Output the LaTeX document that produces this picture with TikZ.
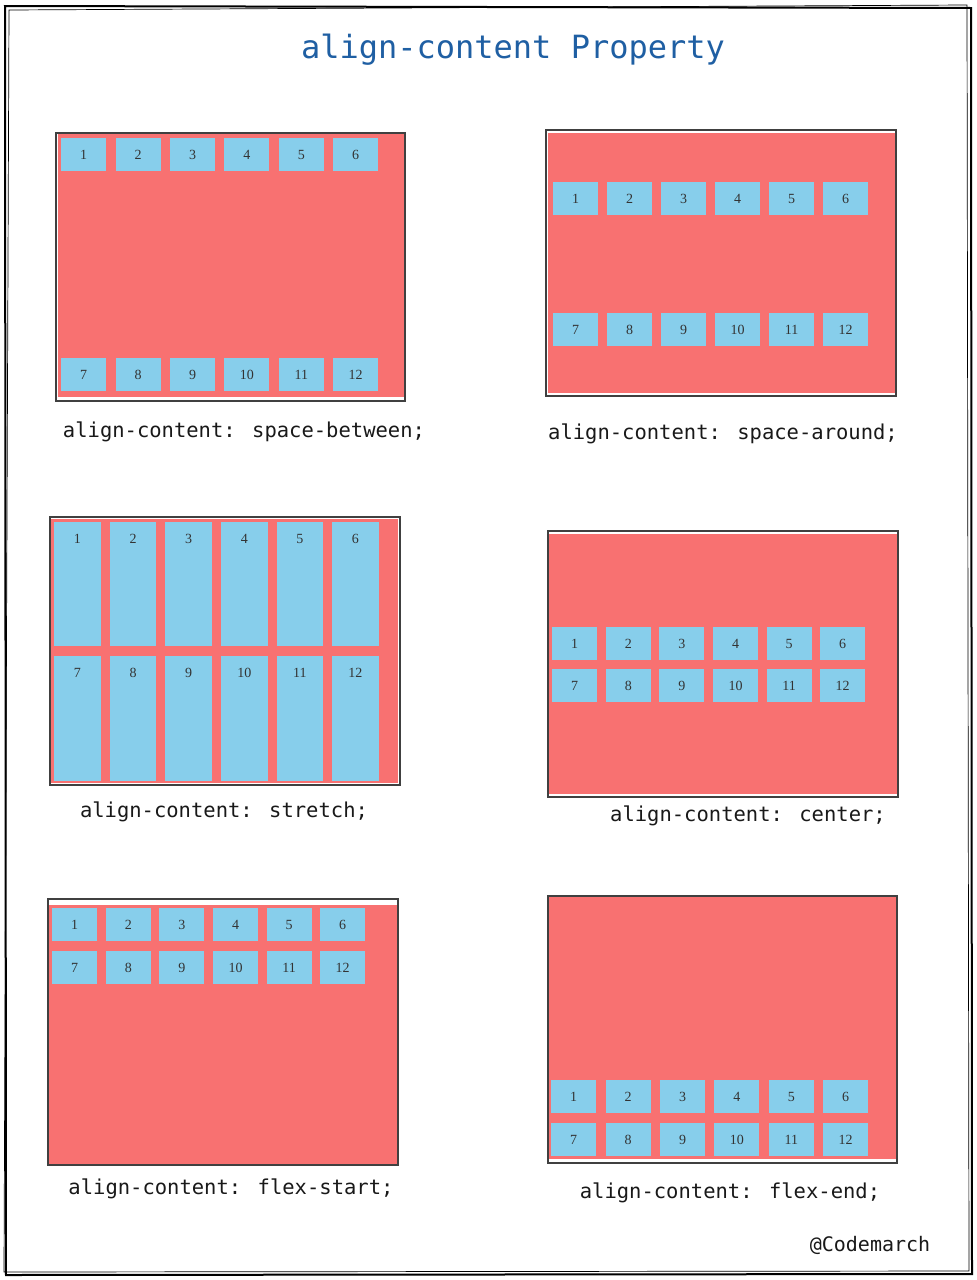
\documentclass[tikz,border=0pt]{standalone}
\usepackage{fontspec}
\setmainfont{Liberation Serif}
\newfontfamily\codefont{DejaVu Sans Mono}
\usetikzlibrary{positioning}
\definecolor{boxred}{HTML}{F87171}
\definecolor{itemblue}{HTML}{87CEEB}
\definecolor{titleblue}{HTML}{1F5FA3}
\tikzset{
  item/.style={fill=itemblue, inner sep=0pt, minimum width=45pt, minimum height=33pt, anchor=north west, font=\fontsize{14}{14}\selectfont, text=black!80, text height=9pt, text depth=0pt},
  tallitem/.style={fill=itemblue, inner sep=0pt, minimum width=46.5pt, minimum height=124pt, anchor=north west},
  num/.style={inner sep=0pt, font=\fontsize{14}{14}\selectfont, text=black!80, text height=9pt, text depth=0pt},
  outline/.style={draw=black!75, line width=1.2pt},
  cssline/.style={font=\codefont\fontsize{20.5}{20.5}\selectfont, text=black!90}
}
\begin{document}
\begin{tikzpicture}[x=1pt,y=-1pt]
\fill[white] (0,0) rectangle (977,1280);
\useasboundingbox (0,0) rectangle (977,1280);
% sketchy frame
\draw[line width=2pt] (5,6) -- (971,8) -- (972,1274) -- (6,1275) -- cycle;
\draw[line width=0.7pt] (9,10) -- (967,5) -- (969,1271) -- (4,1272) -- cycle;
\node[font=\codefont\fontsize{32}{32}\selectfont, text=titleblue] (title) at (513,50) {align-content Property};

% space-between
\fill[boxred] (58,134) rectangle (405,397);
\draw[outline] (56,133) rectangle (405,401);
\foreach \i in {1,...,6} {
  \pgfmathtruncatemacro\j{\i+6}
  \node[item] (sb\i) at ({61+(\i-1)*54.4},138) {\i};
  \node[item] (sb\j) at ({61+(\i-1)*54.4},358) {\j};
}
\node[cssline] (sbtext) at (244,432) {align-content: space-between;};

% space-around
\fill[boxred] (548,133) rectangle (895,393);
\draw[outline] (546,130) rectangle (896,396);
\foreach \i in {1,...,6} {
  \pgfmathtruncatemacro\j{\i+6}
  \node[item] (sa\i) at ({553+(\i-1)*54},182) {\i};
  \node[item] (sa\j) at ({553+(\i-1)*54},313) {\j};
}
\node[cssline] (satext) at (723,434) {align-content: space-around;};

% stretch
\fill[boxred] (51,519) rectangle (398,783);
\draw[outline] (50,517) rectangle (400,785);
\foreach \i in {1,...,6} {
  \pgfmathtruncatemacro\j{\i+6}
  \node[tallitem] (st\i) at ({54+(\i-1)*55.6},522) {};
  \node[tallitem, minimum height=125pt] (st\j) at ({54+(\i-1)*55.6},656) {};
  \node[num] at ([yshift=-17pt]st\i.north) {\i};
  \node[num] at ([yshift=-17pt]st\j.north) {\j};
}
\node[cssline] (sttext) at (224,812) {align-content: stretch;};

% center
\fill[boxred] (549,534) rectangle (897,794);
\draw[outline] (548,531) rectangle (898,797);
\foreach \i in {1,...,6} {
  \pgfmathtruncatemacro\j{\i+6}
  \node[item] (ce\i) at ({552+(\i-1)*53.6},627) {\i};
  \node[item] (ce\j) at ({552+(\i-1)*53.6},669) {\j};
}
\node[cssline] (cetext) at (748,816) {align-content: center;};

% flex-start
\fill[boxred] (49,905) rectangle (397,1164);
\draw[outline] (48,899) rectangle (398,1165);
\foreach \i in {1,...,6} {
  \pgfmathtruncatemacro\j{\i+6}
  \node[item] (fs\i) at ({52+(\i-1)*53.6},908) {\i};
  \node[item] (fs\j) at ({52+(\i-1)*53.6},951) {\j};
}
\node[cssline] (fstext) at (231,1189) {align-content: flex-start;};

% flex-end
\fill[boxred] (549,897) rectangle (896,1159);
\draw[outline] (548,896) rectangle (897,1163);
\foreach \i in {1,...,6} {
  \pgfmathtruncatemacro\j{\i+6}
  \node[item] (fe\i) at ({551+(\i-1)*54.4},1080) {\i};
  \node[item] (fe\j) at ({551+(\i-1)*54.4},1123) {\j};
}
\node[cssline] (fetext) at (730,1193) {align-content: flex-end;};

\node[cssline, font=\codefont\fontsize{20}{20}\selectfont] (sign) at (870,1245) {@Codemarch};
\end{tikzpicture}
\end{document}
